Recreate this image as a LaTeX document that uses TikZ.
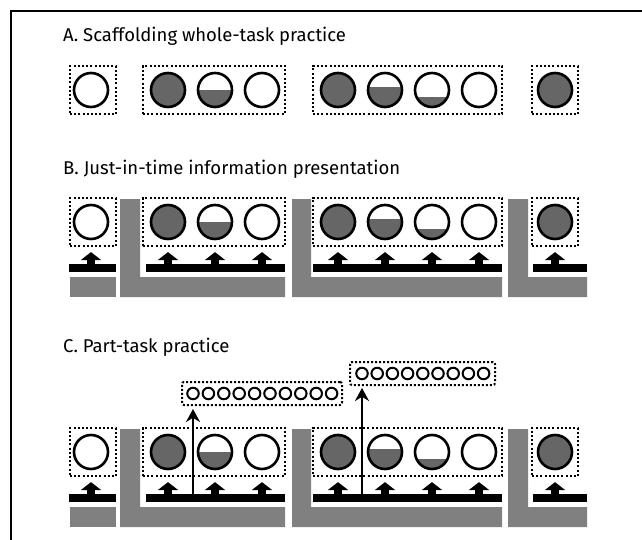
\documentclass[tikz,border=0pt]{standalone}
\usepackage{fontspec}
\setmainfont{Fira Sans}
\usetikzlibrary{arrows.meta}

\tikzstyle{frame}=[draw, line width=1.3pt]
\tikzstyle{heading}=[anchor=base west, inner sep=0pt, font=\fontsize{18.5}{20}\selectfont]
\tikzstyle{dotbox}=[draw, line width=2.2pt, dash pattern=on 2pt off 2.2pt, minimum height=48pt, inner sep=0pt]
\tikzstyle{skill}=[circle, draw, line width=2.6pt, minimum size=34pt, inner sep=0pt]
\tikzstyle{level}=[path picture={\fill[black!60] (path picture bounding box.south west) rectangle ([yshift={#1*34pt}]path picture bounding box.south east);}]
\tikzstyle{shelf}=[fill=black, inner sep=0pt, minimum height=8pt]
\tikzstyle{ground}=[fill=black!50]
\tikzstyle{lift}=[-{Triangle[width=20pt,length=8pt]}, line width=8pt, shorten >=5pt]
\tikzstyle{jump}=[-{Stealth[width=14pt,length=13pt]}, line width=2pt]
\tikzstyle{minibox}=[draw, line width=2pt, dash pattern=on 2pt off 2pt, rounded corners=2pt, minimum height=23pt, inner sep=0pt]
\tikzstyle{dot}=[circle, draw, line width=2pt, minimum size=11.5pt, inner sep=0pt]

\begin{document}
\begin{tikzpicture}[x=1pt, y=-1pt]
  \useasboundingbox (0,0) rectangle (642,540);
  \draw[frame] (11,540) -- (11,11) -- (642,11);

  \node[heading] (ta) at (63,42) {A. Scaffolding whole-task practice};
  \node[heading] (tb) at (63,175) {B. Just-in-time information presentation};
  \node[heading] (tc) at (63,352) {C. Part-task practice};

  \foreach \r/\y in {b/222, c/452} {
    \fill[ground] (70,\y+55) rectangle (116,\y+75);
    \fill[ground] (120,\y-23) -- (140,\y-23) -- (140,\y+55) -- (285,\y+55) -- (285,\y+75) -- (120,\y+75) -- cycle;
    \fill[ground] (292,\y-23) -- (311,\y-23) -- (311,\y+55) -- (502,\y+55) -- (502,\y+75) -- (292,\y+75) -- cycle;
    \fill[ground] (508,\y-23) -- (528,\y-23) -- (528,\y+55) -- (587,\y+55) -- (587,\y+75) -- (508,\y+75) -- cycle;
    \node[shelf, minimum width=47pt] (shelf\r1) at (92.5,\y+46) {};
    \node[shelf, minimum width=139pt] (shelf\r2) at (215.5,\y+46) {};
    \node[shelf, minimum width=189pt] (shelf\r3) at (407.5,\y+46) {};
    \node[shelf, minimum width=54pt] (shelf\r4) at (560,\y+46) {};
  }

  \foreach \r/\y in {a/90, b/222, c/452} {
    \node[dotbox, minimum width=46pt] (box\r1) at (93,\y) {};
    \node[dotbox, minimum width=142pt] (box\r2) at (214,\y) {};
    \node[dotbox, minimum width=189pt] (box\r3) at (407.5,\y) {};
    \node[dotbox, minimum width=46pt] (box\r4) at (555,\y) {};
    \node[skill] (\r-1-1) at (91,\y) {};
    \foreach \f [count=\i] in {1, 0.5, 0}
      \node[skill, level=\f] (\r-2-\i) at (121+47*\i,\y) {};
    \foreach \f [count=\i] in {1, 0.6, 0.3, 0}
      \node[skill, level=\f] (\r-3-\i) at (291+47*\i,\y) {};
    \node[skill, level=1] (\r-4-1) at (555,\y) {};
  }

  \foreach \r in {b, c} {
    \draw[lift] (\r-1-1 |- shelf\r1.north) -- (\r-1-1 |- box\r1.south);
    \foreach \i in {1,2,3}
      \draw[lift] (\r-2-\i |- shelf\r2.north) -- (\r-2-\i |- box\r2.south);
    \foreach \i in {1,...,4}
      \draw[lift] (\r-3-\i |- shelf\r3.north) -- (\r-3-\i |- box\r3.south);
    \draw[lift] (\r-4-1 |- shelf\r4.north) -- (\r-4-1 |- box\r4.south);
  }

  \node[minibox, minimum width=160pt] (part1) at (262,393.5) {};
  \foreach \i in {0,...,9}
    \node[dot] (p1-\i) at (193+15.4*\i,393.5) {};
  \node[minibox, minimum width=145pt] (part2) at (422.5,373.5) {};
  \foreach \i in {0,...,8}
    \node[dot] (p2-\i) at (362+15.2*\i,373.5) {};
  \draw[jump, shorten >=3pt] (p1-0 |- shelfc2.north) -- (p1-0 |- part1.south);
  \draw[jump, shorten >=2pt] (p2-0 |- shelfc3.north) -- (p2-0 |- part2.south);
\end{tikzpicture}
\end{document}
